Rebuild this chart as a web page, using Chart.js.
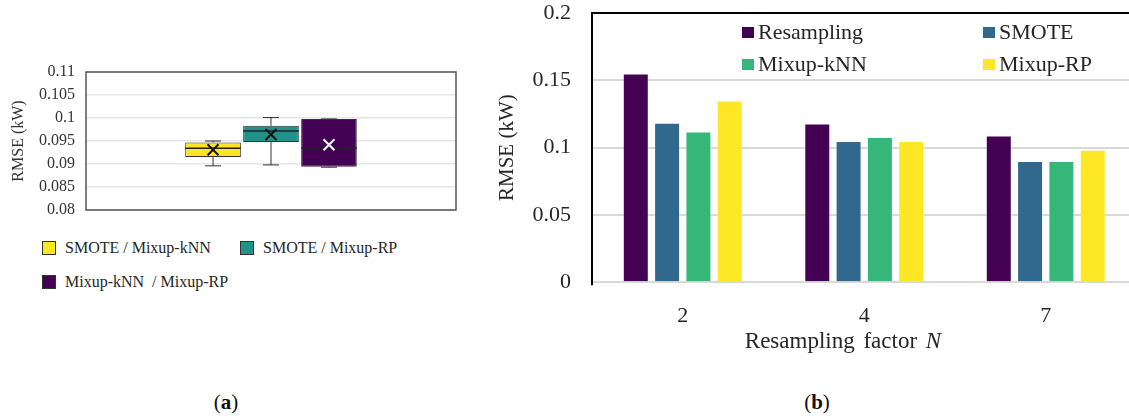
<!DOCTYPE html>
<html>
<head>
<meta charset="utf-8">
<script src="https://cdn.jsdelivr.net/npm/chart.js@4.4.1/dist/chart.umd.min.js"></script>
<style>
  html, body { margin: 0; padding: 0; background: #fff; overflow: hidden; }
  body { width: 1129px; height: 419px; position: relative; font-family: "Liberation Serif", "Times New Roman", serif; color: #262626; }
  canvas { position: absolute; }
  #boxChart { left: 0; top: 60px; }
  #barChart { left: 480px; top: 0; }
  .leg { position: absolute; display: flex; align-items: center; white-space: pre; }
  .leg span.sw { display: inline-block; box-sizing: border-box; }
  .cap { position: absolute; top: 390px; width: 60px; text-align: center; font-size: 21px; color: #111; }
  #xTitleB { position: absolute; left: 743px; top: 328px; width: 200px; text-align: center; font-size: 23px; color: #262626; word-spacing: 3px; white-space: nowrap; }
</style>
</head>
<body>
<canvas id="boxChart" width="470" height="160"></canvas>
<canvas id="barChart" width="660" height="330"></canvas>
<div id="legendA"></div>
<div id="legendB"></div>
<div id="xTitleB">Resampling factor <i>N</i></div>
<div class="cap" style="left:196px">(<b>a</b>)</div>
<div class="cap" style="left:787px">(<b>b</b>)</div>
<script>
// (a) box plot: pairwise comparisons
const boxLabels = ['SMOTE / Mixup-kNN', 'SMOTE / Mixup-RP', 'Mixup-kNN  / Mixup-RP'];
const boxColors = ['#FDE725', '#21918C', '#440154'];
const boxMin    = [0.0896, 0.0898, 0.0893];
const boxQ1     = [0.0915, 0.0948, 0.0894];
const boxMedian = [0.0934, 0.0972, 0.0935];
const boxQ3     = [0.0947, 0.0983, 0.0998];
const boxMax    = [0.0950, 0.1001, 0.0998];
const boxMean   = [0.0931, 0.0964, 0.0942];
const meanColors = ['#111', '#111', '#fff'];
const ticksA = [0.08, 0.085, 0.09, 0.095, 0.1, 0.105, 0.11];

// (b) grouped bars
const factors = ['2', '4', '7'];
const seriesNames = ['Resampling', 'SMOTE', 'Mixup-kNN', 'Mixup-RP'];
const seriesColors = ['#440154', '#31688E', '#35B779', '#FDE725'];
const resampling = [0.155, 0.118, 0.109];
const smote      = [0.1185, 0.105, 0.090];
const mixupKnn   = [0.112, 0.108, 0.090];
const mixupRp    = [0.135, 0.105, 0.0985];
const ticksB = [0, 0.05, 0.1, 0.15, 0.2];

const SERIF = '"Liberation Serif", "Times New Roman", serif';
Chart.defaults.font.family = SERIF;
Chart.defaults.color = '#333';
Chart.defaults.animation = false;

// keeps the plot area where the layout padding puts it
const noTickPad = s => { s.paddingTop = 0; s.paddingBottom = 0; };

const boxPlugin = {
    id: 'boxParts',
    afterDatasetsDraw(chart) {
        const ctx = chart.ctx, y = chart.scales.y, a = chart.chartArea;
        ctx.save();
        ctx.strokeStyle = '#555';
        ctx.lineWidth = 1.5;
        ctx.strokeRect(a.left, a.top, a.right - a.left, a.bottom - a.top);
        chart.data.datasets.forEach((ds, i) => {
            const el = chart.getDatasetMeta(i).data[0];
            const cx = el.x, hw = el.width / 2, cap = 8;
            ctx.strokeStyle = '#333';
            ctx.lineWidth = 1;
            ctx.beginPath();
            ctx.moveTo(cx, y.getPixelForValue(boxMax[i]));
            ctx.lineTo(cx, y.getPixelForValue(boxQ3[i]));
            ctx.moveTo(cx, y.getPixelForValue(boxQ1[i]));
            ctx.lineTo(cx, y.getPixelForValue(boxMin[i]));
            ctx.moveTo(cx - cap, y.getPixelForValue(boxMax[i]));
            ctx.lineTo(cx + cap, y.getPixelForValue(boxMax[i]));
            ctx.moveTo(cx - cap, y.getPixelForValue(boxMin[i]));
            ctx.lineTo(cx + cap, y.getPixelForValue(boxMin[i]));
            ctx.stroke();
            ctx.lineWidth = 1.5;
            ctx.strokeStyle = '#222';
            const my = y.getPixelForValue(boxMedian[i]);
            ctx.beginPath();
            ctx.moveTo(cx - hw, my);
            ctx.lineTo(cx + hw, my);
            ctx.stroke();
            const ey = y.getPixelForValue(boxMean[i]), s = 5.5;
            ctx.strokeStyle = meanColors[i];
            ctx.lineWidth = 2;
            ctx.beginPath();
            ctx.moveTo(cx - s, ey - s); ctx.lineTo(cx + s, ey + s);
            ctx.moveTo(cx + s, ey - s); ctx.lineTo(cx - s, ey + s);
            ctx.stroke();
        });
        ctx.restore();
    }
};

const framePlugin = {
    id: 'frameB',
    afterDraw(chart) {
        const ctx = chart.ctx, a = chart.chartArea;
        ctx.save();
        ctx.strokeStyle = '#000';
        ctx.lineWidth = 2;
        ctx.beginPath();
        ctx.moveTo(a.left, a.bottom + 3);
        ctx.lineTo(a.left, a.top);
        ctx.lineTo(chart.width, a.top);
        ctx.stroke();
        ctx.restore();
    }
};

function drawBoxChart() {
    new Chart(document.getElementById('boxChart'), {
        type: 'bar',
        data: {
            labels: [''],
            datasets: boxLabels.map((name, i) => ({
                label: name,
                data: [[boxQ1[i], boxQ3[i]]],
                backgroundColor: boxColors[i],
                borderColor: '#333',
                borderWidth: 1,
                borderSkipped: false,
                categoryPercentage: 0.47,
                barPercentage: 0.96
            }))
        },
        options: {
            responsive: false,
            devicePixelRatio: 1,
            layout: { padding: { left: 0, top: 12, right: 14, bottom: 10 } },
            plugins: { legend: { display: false }, tooltip: { enabled: false } },
            scales: {
                x: {
                    grid: { display: false },
                    border: { display: false },
                    ticks: { display: false },
                    afterFit: s => { s.height = 0; }
                },
                y: {
                    min: 0.08, max: 0.11,
                    afterBuildTicks: s => { s.ticks = ticksA.map(v => ({ value: v })); },
                    afterFit: s => { s.width = 86; noTickPad(s); },
                    grid: { color: '#e6e6e6', lineWidth: 1.5, drawTicks: false },
                    border: { display: false },
                    ticks: { padding: 11, color: '#333', font: { size: 16 }, callback: v => String(v) },
                    title: { display: true, text: 'RMSE (kW)', color: '#333', font: { size: 16 }, padding: { top: 9, bottom: 0 } }
                }
            }
        },
        plugins: [boxPlugin]
    });
}

function drawBarChart() {
    const seriesB = [resampling, smote, mixupKnn, mixupRp];
    new Chart(document.getElementById('barChart'), {
        type: 'bar',
        data: {
            labels: factors,
            datasets: seriesNames.map((name, i) => ({
                label: name,
                data: seriesB[i],
                backgroundColor: seriesColors[i],
                borderColor: 'rgba(255,255,255,0.35)',
                borderWidth: 1,
                categoryPercentage: 0.69,
                barPercentage: 0.83
            }))
        },
        options: {
            responsive: false,
            devicePixelRatio: 1,
            layout: { padding: { left: 0, top: 13, right: 3.5, bottom: 0 } },
            plugins: { legend: { display: false }, tooltip: { enabled: false } },
            scales: {
                x: {
                    grid: { display: false },
                    border: { display: false },
                    ticks: { padding: 13, color: '#262626', font: { size: 22 } },
                    afterFit: s => { s.height = 47.7; }
                },
                y: {
                    min: 0, max: 0.2,
                    afterBuildTicks: s => { s.ticks = ticksB.map(v => ({ value: v })); },
                    afterFit: s => { s.width = 112; noTickPad(s); },
                    grid: { color: '#d9d9d9', lineWidth: 2, drawTicks: false },
                    border: { display: false },
                    ticks: { padding: 21, color: '#262626', font: { size: 22 }, callback: v => String(v) },
                    title: { display: true, text: 'RMSE (kW)', color: '#262626', font: { size: 21 }, padding: { top: 15, bottom: 0 } }
                }
            }
        },
        plugins: [framePlugin]
    });
}

// legends built from the series arrays
function addLegend(containerId, items) {
    const box = document.getElementById(containerId);
    items.forEach(it => {
        const d = document.createElement('div');
        d.className = 'leg';
        d.style.left = it.x + 'px';
        d.style.top = (it.y - 15) + 'px';
        d.style.height = '30px';
        d.style.fontSize = it.fs + 'px';
        const sw = document.createElement('span');
        sw.className = 'sw';
        sw.style.width = it.w + 'px';
        sw.style.height = it.h + 'px';
        sw.style.background = it.color;
        if (it.border) sw.style.border = '1px solid #333';
        sw.style.marginRight = it.gap + 'px';
        d.appendChild(sw);
        d.appendChild(document.createTextNode(it.text));
        box.appendChild(d);
    });
}
const legAPos = [[42, 248], [240, 248], [42, 282]];
addLegend('legendA', boxLabels.map((t, i) => ({
    text: t, color: boxColors[i], x: legAPos[i][0], y: legAPos[i][1],
    w: 14, h: 14, gap: 9, fs: 16, border: true
})));
const legBPos = [[742, 32], [983, 32], [742, 64], [983, 64]];
addLegend('legendB', seriesNames.map((t, i) => ({
    text: t, color: seriesColors[i], x: legBPos[i][0], y: legBPos[i][1],
    w: 12, h: 11, gap: 4, fs: 22, border: false
})));

Promise.all([
    document.fonts.load('16px "Liberation Serif"'),
    document.fonts.load('21px "Liberation Serif"')
]).catch(() => {}).then(() => {
    drawBoxChart();
    drawBarChart();
});
</script>
</body>
</html>
